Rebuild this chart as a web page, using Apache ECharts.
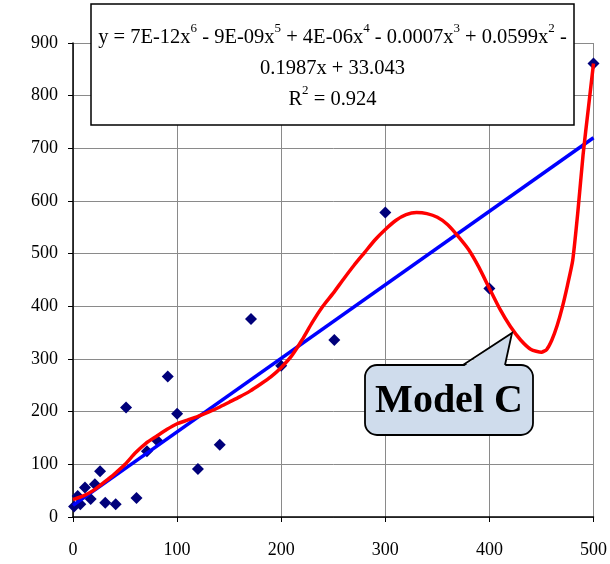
<!DOCTYPE html>
<html>
<head>
<meta charset="utf-8">
<script src="https://cdn.jsdelivr.net/npm/echarts@6/dist/echarts.min.js"></script>
<style>
html,body{margin:0;padding:0;background:#fff;}
#chart{width:610px;height:564px;}
</style>
</head>
<body>
<div id="chart"></div>
<script>
// Observed data points
const obsX = [1, 4.5, 7, 11.5, 17, 21, 26, 31, 41, 51, 61, 71, 81, 91, 100, 120, 141, 171, 200, 251, 300, 400, 500];
const obsY = [20, 40, 24, 56, 34, 62, 87, 27, 24, 208, 36, 125, 145, 267, 196, 91, 137, 376, 287, 336, 578, 434, 861];

// Linear trend line
const linX = [0, 500];
const linY = [22, 720];

// Polynomial trend curve
const polyX = [0, 10, 20, 30, 40, 50, 60, 70, 80, 90, 100, 110, 120, 130, 140, 150, 160, 170, 180, 190, 200, 210, 220, 230, 240, 250, 260, 270, 280, 290, 300, 310, 320, 330, 340, 350, 360, 370, 380, 390, 400, 410, 420, 430, 440, 450, 455, 460, 465, 470, 475, 480, 485, 490, 495, 500];
const polyY = [33, 40, 51, 66, 82, 100, 122, 140, 153, 166, 177, 184, 191, 199, 208, 218, 228, 239, 252, 266, 284, 306, 336, 370, 400, 425, 452, 478, 502, 526, 546, 563, 574, 578, 576, 569, 555, 533, 508, 474, 434, 395, 362, 336, 318, 313, 318, 336, 363, 398, 440, 487, 580, 688, 775, 861];

const xTicks = [0, 100, 200, 300, 400, 500];
const yTicks = [0, 100, 200, 300, 400, 500, 600, 700, 800, 900];

const eqLines = [
  'y = 7E-12x{s|6} - 9E-09x{s|5} + 4E-06x{s|4} - 0.0007x{s|3} + 0.0599x{s|2} -',
  '0.1987x + 33.043',
  'R{s|2} = 0.924'
];
const calloutText = 'Model C';

const serif = '"Liberation Serif", "Times New Roman", serif';
const chart = echarts.init(document.getElementById('chart'), null, {renderer: 'canvas'});

const option = {
  animation: false,
  backgroundColor: '#ffffff',
  grid: {left: 73, right: 14.5, top: 43, bottom: 47, containLabel: false},
  xAxis: {
    type: 'value', min: xTicks[0], max: xTicks[xTicks.length - 1], interval: 100,
    axisLine: {show: true, onZero: false, lineStyle: {color: '#000', width: 1.5}},
    axisTick: {show: true, inside: false, length: 5, lineStyle: {color: '#000', width: 1}},
    axisLabel: {color: '#000', fontFamily: serif, fontSize: 18, margin: 24},
    splitLine: {show: true, lineStyle: {color: '#8a8a8a', width: 1}}
  },
  yAxis: {
    type: 'value', min: yTicks[0], max: yTicks[yTicks.length - 1], interval: 100,
    axisLine: {show: true, onZero: false, lineStyle: {color: '#000', width: 1.5}},
    axisTick: {show: true, inside: false, length: 5, lineStyle: {color: '#000', width: 1}},
    axisLabel: {color: '#000', fontFamily: serif, fontSize: 18, margin: 15},
    splitLine: {show: true, lineStyle: {color: '#8a8a8a', width: 1}}
  },
  series: [
    {
      type: 'scatter', symbol: 'diamond', symbolSize: 12, z: 2,
      itemStyle: {color: '#00007a', opacity: 1},
      data: obsX.map((x, i) => [x, obsY[i]])
    },
    {
      type: 'line', showSymbol: false, z: 3,
      lineStyle: {color: '#0000ff', width: 3.5},
      data: linX.map((x, i) => [x, linY[i]])
    },
    {
      type: 'line', showSymbol: false, smooth: 0.2, z: 4,
      lineStyle: {color: '#ff0000', width: 3.5},
      data: polyX.map((x, i) => [x, polyY[i]])
    }
  ],
  graphic: [
    {
      type: 'rect', z: 100,
      shape: {x: 91, y: 4, width: 483, height: 121},
      style: {fill: '#ffffff', stroke: '#000', lineWidth: 1.5}
    },
    {
      type: 'text', z: 101, x: 332.5, y: 22,
      style: {
        text: eqLines.join('\n'),
        font: '20.5px ' + serif,
        fill: '#000',
        align: 'center',
        verticalAlign: 'top',
        lineHeight: 31,
        rich: {
          s: {fontSize: 13, fontFamily: serif, lineHeight: 16, verticalAlign: 'top', fill: '#000'}
        }
      }
    },
    {
      type: 'rect', z: 100,
      shape: {x: 365, y: 365, width: 168, height: 70, r: 12},
      style: {fill: '#cfdcec', stroke: '#000', lineWidth: 1.8}
    },
    {
      type: 'polygon', z: 101,
      shape: {points: [[463, 367], [512, 333], [505, 367]]},
      style: {fill: '#cfdcec', stroke: null}
    },
    {
      type: 'polyline', z: 102,
      shape: {points: [[463, 365], [512, 333], [505, 365]]},
      style: {fill: null, stroke: '#000', lineWidth: 1.8, lineJoin: 'miter'}
    },
    {
      type: 'text', z: 103, x: 449, y: 402,
      style: {
        text: calloutText,
        font: 'bold 40px ' + serif,
        fill: '#000',
        align: 'center',
        verticalAlign: 'middle'
      }
    }
  ]
};
chart.setOption(option);
</script>
</body>
</html>
